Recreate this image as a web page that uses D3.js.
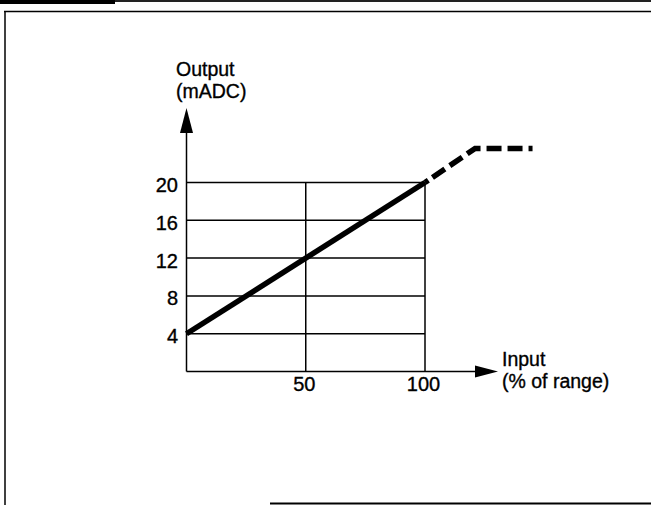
<!DOCTYPE html>
<html>
<head>
<meta charset="utf-8">
<title>Output vs Input</title>
<script src="https://d3js.org/d3.v7.min.js"></script>
<style>
  body { margin: 0; background: #fff; }
  text { font-family: "Liberation Sans", Arial, Helvetica, sans-serif; fill: #000; stroke: #000; stroke-width: 0.35px; }
</style>
</head>
<body>
<div id="chart"></div>
<script>

// chart values
var yTicks = [4, 8, 12, 16, 20];
var xTicks = [50, 100];
var solidLine = [[0, 4], [100, 20]];
var dashedLine = [[100, 20], [121, 23.6], [146, 23.6]];
var yTitle = ["Output", "(mADC)"];
var xTitle = ["Input", "(% of range)"];

var W = 651, H = 505;

var svg = d3.select("#chart")
  .append("svg")
    .attr("width", W)
    .attr("height", H);

// page frame (scanned box)
svg.append("rect").attr("x", 0).attr("y", 0).attr("width", 115).attr("height", 4).attr("fill", "#000");
svg.append("rect").attr("x", 115).attr("y", 0).attr("width", W - 115).attr("height", 2).attr("fill", "#222");
svg.append("line").attr("x1", 4).attr("x2", W).attr("y1", 11.5).attr("y2", 11.5)
  .attr("stroke", "#000").attr("stroke-width", 1.5);
svg.append("line").attr("x1", 5).attr("x2", 5).attr("y1", 11).attr("y2", H)
  .attr("stroke", "#000").attr("stroke-width", 1.5);
svg.append("line").attr("x1", 270).attr("x2", W).attr("y1", 503.5).attr("y2", 503.5)
  .attr("stroke", "#000").attr("stroke-width", 2);

// scales
var x = d3.scaleLinear().domain([0, 100]).range([186.5, 425]);
var y = d3.scaleLinear().domain([0, 20]).range([371.5, 182.5]);

// grid
svg.selectAll("hgrid")
  .data(yTicks)
  .enter()
  .append("line")
    .attr("x1", x(0)).attr("x2", x(100))
    .attr("y1", function(d) { return y(d); })
    .attr("y2", function(d) { return y(d); })
    .attr("stroke", "#000").attr("stroke-width", 1.5);

svg.selectAll("vgrid")
  .data(xTicks)
  .enter()
  .append("line")
    .attr("x1", function(d) { return x(d); })
    .attr("x2", function(d) { return x(d); })
    .attr("y1", y(0)).attr("y2", y(20))
    .attr("stroke", "#000").attr("stroke-width", 1.5);

// axes with arrows
svg.append("line")
  .attr("x1", x(0)).attr("x2", x(0))
  .attr("y1", y(0)).attr("y2", 128)
  .attr("stroke", "#000").attr("stroke-width", 1.5);
svg.append("path")
  .attr("d", "M" + x(0) + ",108 L" + (x(0) - 6.5) + ",133 L" + (x(0) + 6.5) + ",133 Z")
  .attr("fill", "#000");

svg.append("line")
  .attr("x1", x(0)).attr("x2", 480)
  .attr("y1", y(0)).attr("y2", y(0))
  .attr("stroke", "#000").attr("stroke-width", 1.5);
svg.append("path")
  .attr("d", "M498," + y(0) + " L475," + (y(0) - 6) + " L475," + (y(0) + 6) + " Z")
  .attr("fill", "#000");

// tick labels
svg.selectAll("ylab")
  .data(yTicks)
  .enter()
  .append("text")
    .attr("x", 178)
    .attr("y", function(d) { return y(d) + 9.5; })
    .attr("text-anchor", "end")
    .style("font-size", "20px")
    .text(function(d) { return d; });

svg.selectAll("xlab")
  .data(xTicks)
  .enter()
  .append("text")
    .attr("x", function(d) { return x(d) - 1.5; })
    .attr("y", 391)
    .attr("text-anchor", "middle")
    .style("font-size", "20px")
    .text(function(d) { return d; });

// axis titles
svg.selectAll("ytitle")
  .data(yTitle)
  .enter()
  .append("text")
    .attr("x", 176)
    .attr("y", function(d, i) { return 76 + i * 21.5; })
    .style("font-size", "19.5px")
    .text(function(d) { return d; });

svg.selectAll("xtitle")
  .data(xTitle)
  .enter()
  .append("text")
    .attr("x", 502)
    .attr("y", function(d, i) { return 366 + i * 21.5; })
    .style("font-size", "19.5px")
    .text(function(d) { return d; });

// response line
var line = d3.line()
  .x(function(d) { return x(d[0]); })
  .y(function(d) { return y(d[1]); });

svg.append("path")
  .attr("d", line(solidLine))
  .attr("fill", "none")
  .attr("stroke", "#000")
  .attr("stroke-width", 5.5);

svg.append("path")
  .attr("d", line(dashedLine))
  .attr("fill", "none")
  .attr("stroke", "#000")
  .attr("stroke-width", 5.5)
  .attr("stroke-dasharray", "4,5,15,6,15,6,15,6,15,6,15,6");

</script>
</body>
</html>
